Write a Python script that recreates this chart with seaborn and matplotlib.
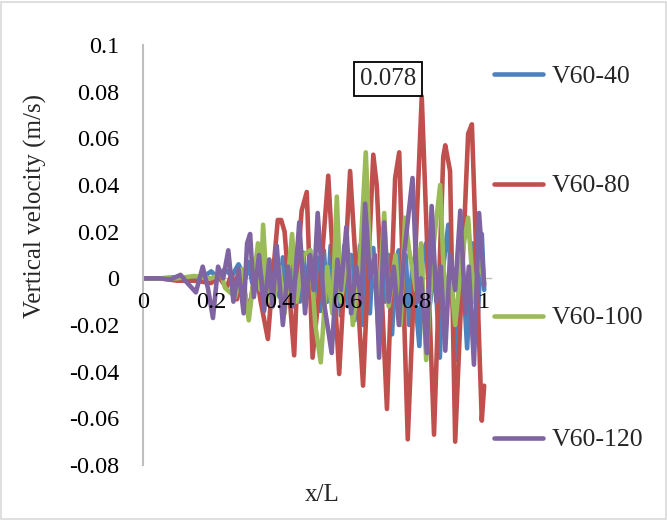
import numpy as np
import pandas as pd
import seaborn as sns
import matplotlib
matplotlib.use("Agg")
import matplotlib.pyplot as plt
from matplotlib.patches import Rectangle

# ---- data (turning points) ----
x_v40 = [0, 0.05, 0.1, 0.15, 0.18, 0.2, 0.22, 0.24, 0.26, 0.28, 0.30, 0.31, 0.32, 0.33, 0.34, 0.35,
         0.36, 0.37, 0.38, 0.39, 0.40, 0.41, 0.42, 0.43, 0.44, 0.45, 0.46, 0.47, 0.48, 0.49, 0.50,
         0.51, 0.52, 0.53, 0.54, 0.55, 0.56, 0.57, 0.58, 0.59, 0.60, 0.61, 0.62, 0.636, 0.645, 0.655,
         0.665, 0.675, 0.69, 0.70, 0.71, 0.72, 0.73, 0.74, 0.75, 0.76, 0.77, 0.78, 0.79, 0.80, 0.81,
         0.82, 0.83, 0.84, 0.855, 0.87, 0.88, 0.895, 0.905, 0.92, 0.935, 0.95, 0.965, 0.98, 0.993, 1.0]
y_v40 = [0, 0, 0.0005, -0.001, 0.001, 0.003, 0.0, 0.004, 0.001, 0.006, 0.0, 0.007, -0.002, 0.008,
         -0.004, 0.006, -0.006, 0.008, -0.007, 0.007, -0.008, 0.009, -0.006, 0.010, -0.009, 0.008,
         -0.010, 0.011, -0.008, 0.012, -0.012, 0.009, -0.014, 0.012, -0.010, 0.014, -0.015, 0.010,
         -0.016, 0.014, -0.012, 0.010, -0.018, 0.014, -0.020, 0.012, -0.015, 0.013, -0.022, 0.012,
         -0.010, 0.010, -0.024, 0.006, 0.012, -0.015, 0.010, -0.020, 0.008, -0.012, -0.029, 0.010,
         0.015, -0.012, 0.005, -0.034, 0.005, 0.023, -0.005, -0.035, 0.010, -0.030, 0.015, -0.020,
         0.019, -0.005]

x_v80 = [0, 0.05, 0.1, 0.15, 0.2, 0.22, 0.245, 0.26, 0.275, 0.29, 0.31, 0.33, 0.345, 0.366, 0.38,
         0.395, 0.405, 0.415, 0.443, 0.455, 0.465, 0.48, 0.497, 0.52, 0.543, 0.575, 0.607, 0.645,
         0.675, 0.685, 0.715, 0.739, 0.751, 0.776, 0.817, 0.853, 0.88, 0.886, 0.9, 0.915, 0.953,
         0.964, 0.993, 1.0]
y_v80 = [0, 0, -0.001, -0.001, -0.002, 0.001, -0.004, 0.002, -0.009, 0.0, -0.015, 0.004, -0.010,
         -0.026, 0.0, 0.025, 0.025, 0.020, -0.033, 0.010, 0.029, 0.037, -0.034, 0.0, 0.044, -0.041,
         0.046, -0.046, 0.053, 0.040, -0.056, 0.043, 0.054, -0.069, 0.078, -0.067, 0.052, 0.057,
         0.046, -0.070, 0.062, 0.066, -0.061, -0.046]

x_v100 = [0, 0.1, 0.15, 0.2, 0.23, 0.24, 0.27, 0.29, 0.31, 0.337, 0.345, 0.352, 0.363, 0.38, 0.40,
          0.415, 0.437, 0.45, 0.47, 0.49, 0.505, 0.521, 0.54, 0.555, 0.568, 0.58, 0.60, 0.615, 0.635,
          0.653, 0.665, 0.68, 0.69, 0.707, 0.72, 0.74, 0.755, 0.768, 0.78, 0.80, 0.815, 0.83, 0.85,
          0.871, 0.885, 0.90, 0.915, 0.935, 0.953, 0.97, 0.985, 1.0]
y_v100 = [0, 0, 0.001, 0.0, 0.002, -0.004, -0.008, 0.004, -0.018, 0.015, -0.005, 0.023, -0.004,
          -0.012, 0.005, -0.015, 0.019, -0.010, 0.010, 0.012, -0.020, -0.036, 0.005, -0.015, 0.035,
          -0.010, 0.012, -0.020, 0.005, 0.054, 0.010, 0.005, -0.015, 0.028, -0.012, 0.010, -0.020,
          0.026, 0.012, -0.005, 0.015, -0.035, 0.012, 0.040, -0.010, 0.005, -0.020, 0.010, 0.026,
          -0.010, 0.010, -0.002]

x_v120 = [0, 0.05, 0.08, 0.11, 0.13, 0.155, 0.175, 0.19, 0.205, 0.22, 0.235, 0.25, 0.265, 0.28,
          0.295, 0.305, 0.314, 0.325, 0.34, 0.355, 0.37, 0.38, 0.392, 0.41, 0.425, 0.44, 0.458,
          0.475, 0.49, 0.5, 0.512, 0.53, 0.553, 0.57, 0.58, 0.596, 0.61, 0.625, 0.64, 0.651, 0.665,
          0.68, 0.692, 0.707, 0.72, 0.735, 0.75, 0.765, 0.79, 0.805, 0.815, 0.832, 0.846, 0.86,
          0.873, 0.886, 0.9, 0.915, 0.93, 0.945, 0.955, 0.97, 0.985, 1.0]
y_v120 = [0, 0, -0.0005, 0.0015, -0.002, -0.006, 0.005, -0.004, -0.017, 0.005, 0.0, 0.012, -0.010,
          0.004, -0.015, 0.015, 0.019, -0.008, 0.010, -0.014, 0.008, -0.012, 0.014, -0.020, 0.005,
          -0.012, 0.024, -0.015, 0.010, -0.005, 0.028, -0.010, -0.032, 0.008, -0.005, 0.022, -0.015,
          0.005, -0.010, 0.032, 0.0, 0.010, -0.034, 0.024, -0.010, 0.005, -0.020, 0.010, 0.043,
          -0.010, 0.0, -0.032, 0.031, -0.010, 0.005, -0.031, 0.010, -0.005, 0.029, -0.015, 0.005,
          -0.037, 0.028, -0.003]

series_names = ["V60-40", "V60-80", "V60-100", "V60-120"]
series_colors = ["#4F81BD", "#C0504D", "#9BBB59", "#8064A2"]
x_ticks = [0, 0.2, 0.4, 0.6, 0.8, 1.0]
x_tick_labels = ["0", "0.2", "0.4", "0.6", "0.8", "1"]
y_ticks = [0.1, 0.08, 0.06, 0.04, 0.02, 0, -0.02, -0.04, -0.06, -0.08]
y_tick_labels = ["0.1", "0.08", "0.06", "0.04", "0.02", "0", "-0.02", "-0.04", "-0.06", "-0.08"]
peak_label = "0.078"

frames = []
for name, xs, ys in zip(series_names, [x_v40, x_v80, x_v100, x_v120], [y_v40, y_v80, y_v100, y_v120]):
    frames.append(pd.DataFrame({"series": name, "x": xs, "y": ys}))
df = pd.concat(frames, ignore_index=True)

sns.set_theme(style="white")
plt.rcParams["font.family"] = ["Liberation Serif", "DejaVu Serif"]
plt.rcParams["axes.unicode_minus"] = False

W, H = 667, 520
fig = plt.figure(figsize=(W / 100, H / 100), dpi=100)
ax_left, ax_right, ax_top, ax_bottom = 143, 491, 45, 465
ax = fig.add_axes([ax_left / W, 1 - ax_bottom / H, (ax_right - ax_left) / W, (ax_bottom - ax_top) / H])

sns.lineplot(data=df, x="x", y="y", hue="series", hue_order=series_names,
             palette=dict(zip(series_names, series_colors)), sort=False, estimator=None,
             linewidth=3.3, legend=False, ax=ax)
for ln in ax.lines:
    ln.set_solid_joinstyle("round")
    ln.set_solid_capstyle("round")

ax.set_xlim(0, 1.02)
ax.set_ylim(-0.08, 0.1)
ax.set_xticks(x_ticks)
ax.set_xticklabels(x_tick_labels)
ax.set_yticks(y_ticks)
ax.set_yticklabels(y_tick_labels)
ax.tick_params(axis="both", length=0, labelsize=17.5, colors="black")
ax.tick_params(axis="y", pad=17)
ax.tick_params(axis="x", pad=10)
ax.set_axisbelow(False)

for s in ["top", "right"]:
    ax.spines[s].set_visible(False)
ax.spines["left"].set_color("#BFBFBF")
ax.spines["left"].set_linewidth(1.5)
ax.spines["bottom"].set_position(("data", 0))
ax.spines["bottom"].set_color("#BFBFBF")
ax.spines["bottom"].set_linewidth(1.0)
ax.spines["bottom"].set_zorder(0)
ax.set_facecolor("none")

ax.set_xlabel("x/L", fontsize=18)
ax.xaxis.set_label_coords((322 - ax_left) / (ax_right - ax_left), (ax_bottom - 506) / (ax_bottom - ax_top))
ax.xaxis.label.set_va("bottom")
ax.set_ylabel("Vertical velocity (m/s)", fontsize=18)
ax.yaxis.set_label_coords((47 - ax_left) / (ax_right - ax_left), (ax_bottom - 206) / (ax_bottom - ax_top))

# peak annotation box
ax.text(0.718, 0.0854, peak_label, fontsize=18, ha="center", va="center",
        bbox=dict(boxstyle="square,pad=0.25", fc="white", ec="black", lw=1.3), zorder=5)

# legend entries placed individually on the right
legend_y = [77, 186, 318, 440]
for ln, name, yy in zip(ax.lines, series_names, legend_y):
    lg = fig.legend([ln], [name], loc="center left", bbox_to_anchor=(494 / W, 1 - yy / H),
                    frameon=False, fontsize=18.5, handlelength=1.9, handletextpad=0.35,
                    borderpad=0, borderaxespad=0)

# chart border
fig.patches.append(Rectangle((0.002, 0.002), 0.996, 0.994, transform=fig.transFigure,
                             fill=False, ec="#D9D9D9", lw=1.2))

fig.savefig("out.png", dpi=100)
